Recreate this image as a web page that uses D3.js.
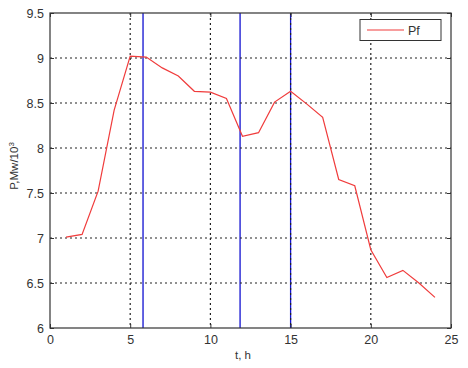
<!DOCTYPE html>
<html><head><meta charset="utf-8">
<script src="https://cdn.jsdelivr.net/npm/d3@7"></script>
<style>body{margin:0;background:#fff}svg{display:block}text{font-family:"Liberation Sans",Arial,sans-serif}</style>
</head><body>
<svg id="c" width="468" height="368"></svg>
<script>
const hours = [1,2,3,4,5,6,7,8,9,10,11,12,13,14,15,16,17,18,19,20,21,22,23,24];
const pf = [7.01,7.04,7.52,8.42,9.02,9.01,8.89,8.80,8.63,8.62,8.55,8.13,8.17,8.51,8.63,8.49,8.34,7.65,7.58,6.87,6.56,6.64,6.50,6.34];
const vlines = [5.8, 11.85, 15];
const xTicks = [0,5,10,15,20,25];
const yTicks = [6,6.5,7,7.5,8,8.5,9,9.5];
const seriesName = "Pf";

const svg = d3.select("#c");
const L=50, R=451, T=13, B=328;
const x = d3.scaleLinear().domain([0,25]).range([L,R]);
const y = d3.scaleLinear().domain([6,9.5]).range([B,T]);

// vertical blue lines
svg.selectAll(".vl").data(vlines).join("line")
  .attr("x1",d=>x(d)).attr("x2",d=>x(d)).attr("y1",T).attr("y2",B)
  .attr("stroke","#1010d0").attr("stroke-width",1.3);

// grid
const g = svg.append("g");
g.selectAll(".gx").data(xTicks.filter(d=>d>0&&d<25)).join("line")
  .attr("x1",d=>x(d)).attr("x2",d=>x(d)).attr("y1",T).attr("y2",B)
  .attr("stroke","#222").attr("stroke-width",1.2).attr("stroke-dasharray","2,3");
g.selectAll(".gy").data(yTicks.filter(d=>d>6&&d<9.5)).join("line")
  .attr("x1",L).attr("x2",R).attr("y1",d=>y(d)).attr("y2",d=>y(d))
  .attr("stroke","#222").attr("stroke-width",1.2).attr("stroke-dasharray","2,3");

// data line
svg.append("path").datum(hours.map((h,i)=>[h,pf[i]]))
  .attr("fill","none").attr("stroke","#f03c3c").attr("stroke-width",1.2)
  .attr("d",d3.line().x(d=>x(d[0])).y(d=>y(d[1])));

// axes
const ax = svg.append("g").attr("transform",`translate(0,${B})`)
  .call(d3.axisBottom(x).tickValues(xTicks).tickFormat(d3.format("d")).tickSizeInner(-4).tickSizeOuter(0).tickPadding(7));
const axT = svg.append("g").attr("transform",`translate(0,${T})`)
  .call(d3.axisTop(x).tickValues(xTicks).tickFormat("").tickSizeInner(-4).tickSizeOuter(0));
const ay = svg.append("g").attr("transform",`translate(${L},0)`)
  .call(d3.axisLeft(y).tickValues(yTicks).tickFormat(d3.format("")).tickSizeInner(-4).tickSizeOuter(0).tickPadding(6));
const ayR = svg.append("g").attr("transform",`translate(${R},0)`)
  .call(d3.axisRight(y).tickValues(yTicks).tickFormat("").tickSizeInner(-4).tickSizeOuter(0));
[ax,axT,ay,ayR].forEach(a=>{
  a.select(".domain").remove();
  a.selectAll("line").attr("stroke","#333");
  a.selectAll("text").attr("font-size",12.5).attr("fill","#333");
});
svg.append("rect").attr("x",L).attr("y",T).attr("width",R-L).attr("height",B-T)
  .attr("fill","none").attr("stroke","#333").attr("stroke-width",1.2);

// labels
svg.append("text").attr("x",243).attr("y",359).attr("text-anchor","middle")
  .attr("font-size",11.5).attr("fill","#333").text("t,  h");
const yl = svg.append("text").attr("transform","translate(18,166) rotate(-90)")
  .attr("text-anchor","middle").attr("font-size",11.5).attr("fill","#333");
yl.append("tspan").text("P,Mw/10");
yl.append("tspan").attr("dy",-4).attr("font-size",8).text("3");

// legend
svg.append("rect").attr("x",360).attr("y",19.5).attr("width",81).attr("height",21)
  .attr("fill","#fff").attr("stroke","#333").attr("stroke-width",1);
svg.append("line").attr("x1",367).attr("x2",404).attr("y1",30).attr("y2",30)
  .attr("stroke","#f03c3c").attr("stroke-width",1.2);
svg.append("text").attr("x",408).attr("y",35).attr("font-size",12.5).attr("fill","#333").text(seriesName);
</script>
</body></html>
